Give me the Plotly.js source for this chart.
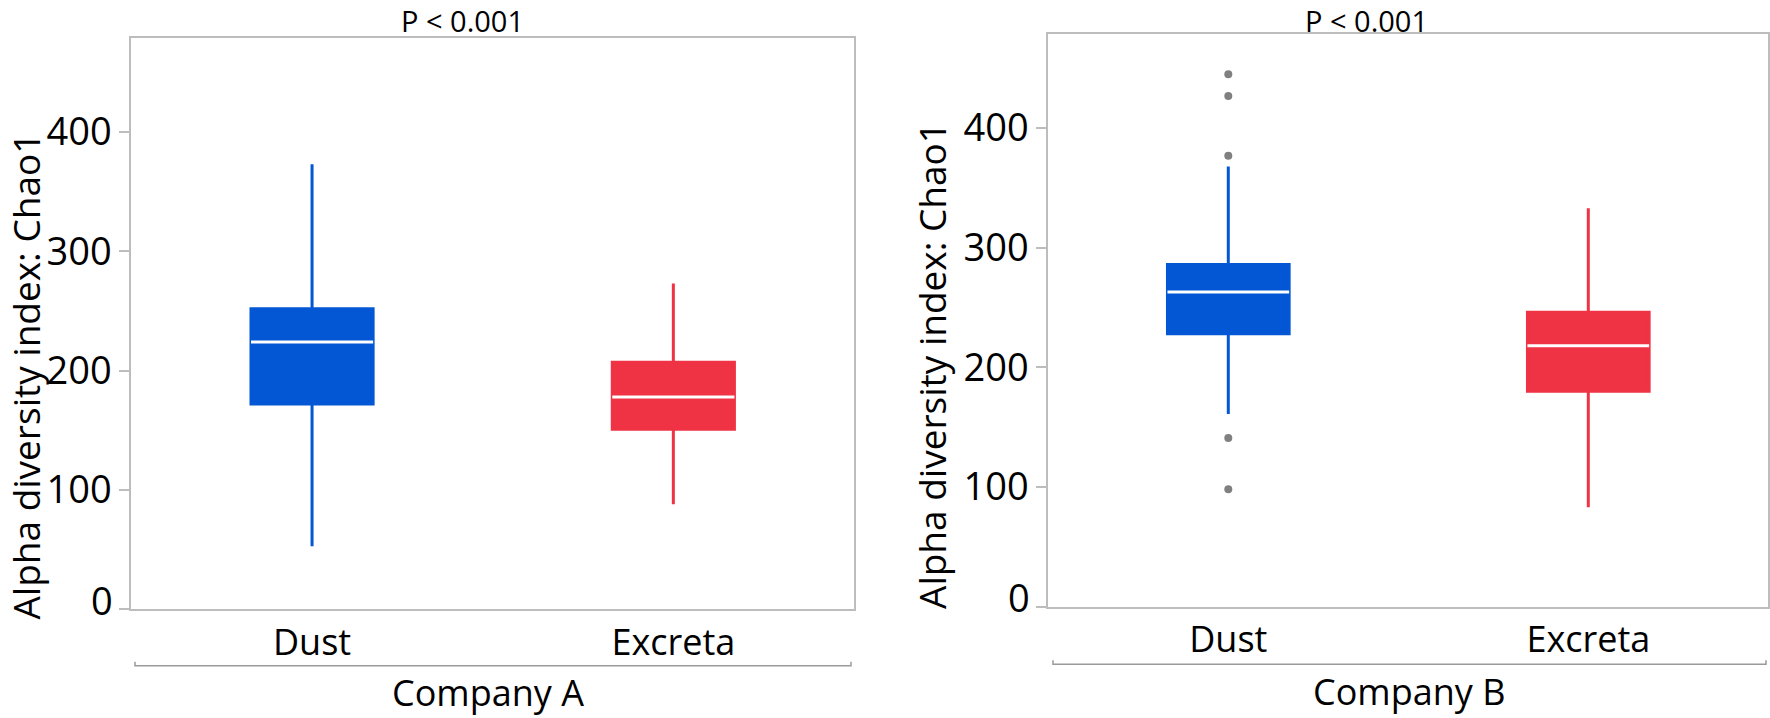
<!DOCTYPE html>
<html><head><meta charset="utf-8">
<script src="https://cdn.plot.ly/plotly-3.0.1.min.js"></script>
<style>html,body{margin:0;padding:0;background:#fff}#chart{width:1770px;height:718px}</style>
</head><body><div id="chart"></div>
<script>
// ---- data ----
const groups = ['Dust', 'Excreta'];
const aLower  = [53, 88];
const aQ1     = [172, 151];
const aMedian = [224, 178];
const aQ3     = [252, 207];
const aUpper  = [373, 273];
const bLower  = [161, 83];
const bQ1     = [228, 180];
const bMedian = [263, 218];
const bQ3     = [286, 246];
const bUpper  = [368, 333];
const bDustOutliers = [445, 427, 377, 141, 98];
const yTicks = [0, 100, 200, 300, 400];
const pTexts = ['P < 0.001', 'P < 0.001'];
const companies = ['Company A', 'Company B'];
const yTitle = 'Alpha diversity index: Chao1';

// ---- styles ----
const colors = ['#0457D4', '#EF3244'];
const FONT = 'Open Sans, Noto Sans, sans-serif';
const frameColor = '#BDBDBD';
const boxW = 0.338;

function boxTraces(lower, q1, med, q3, upper, xa, ya) {
  const out = [];
  groups.forEach((g, i) => {
    out.push({
      type: 'box', x: [g], q1: [q1[i]], median: [med[i]], q3: [q3[i]],
      lowerfence: [lower[i]], upperfence: [upper[i]],
      boxpoints: false, width: boxW, whiskerwidth: 0,
      fillcolor: colors[i], line: {color: colors[i], width: 3},
      xaxis: xa, yaxis: ya, hoverinfo: 'skip', showlegend: false
    });
    out.push({
      type: 'box', x: [g], q1: [med[i]], median: [med[i]], q3: [med[i]],
      lowerfence: [med[i]], upperfence: [med[i]],
      boxpoints: false, width: boxW, whiskerwidth: 0,
      fillcolor: 'rgba(0,0,0,0)', line: {color: '#FFFFFF', width: 3},
      xaxis: xa, yaxis: ya, hoverinfo: 'skip', showlegend: false
    });
  });
  return out;
}

const traces = []
  .concat(boxTraces(aLower, aQ1, aMedian, aQ3, aUpper, 'x', 'y'))
  .concat(boxTraces(bLower, bQ1, bMedian, bQ3, bUpper, 'x2', 'y2'));
traces.push({
  type: 'scatter', mode: 'markers', x: bDustOutliers.map(() => groups[0]), y: bDustOutliers,
  marker: {color: '#808080', size: 8}, xaxis: 'x2', yaxis: 'y2', hoverinfo: 'skip', showlegend: false
});
// invisible carriers so the overlay axes (holding the raised "0" label) are drawn
traces.push({type: 'scatter', mode: 'markers', x: [groups[0]], y: [yTicks[0]], marker: {opacity: 0},
  xaxis: 'x', yaxis: 'y3', hoverinfo: 'skip', showlegend: false});
traces.push({type: 'scatter', mode: 'markers', x: [groups[0]], y: [yTicks[0]], marker: {opacity: 0},
  xaxis: 'x2', yaxis: 'y4', hoverinfo: 'skip', showlegend: false});

const W = 1770, H = 718;
const dom = {
  x1: [131.4 / W, 854 / W], y1: [1 - 609.4 / H, 1 - 37.7 / H],
  x2: [1048.3 / W, 1768.3 / W], y2: [1 - 606.5 / H, 1 - 33.7 / H]
};

function xAxis(d, anchor) {
  return {
    domain: d, anchor: anchor, type: 'category', categoryorder: 'array', categoryarray: groups,
    range: [-0.5, 1.5], showline: true, mirror: true, linecolor: frameColor, linewidth: 2,
    ticks: '', showgrid: false, zeroline: false, ticklabelstandoff: 0,
    tickfont: {size: 36, color: '#000', family: FONT}, fixedrange: true, automargin: false
  };
}
function yAxis(d, anchor) {
  return {
    domain: d, anchor: anchor, range: [0, 479], tickmode: 'array', tickvals: yTicks,
    ticktext: yTicks.map(v => (v === yTicks[0] ? '' : String(v))),
    ticks: 'outside', ticklen: 10, tickwidth: 2, tickcolor: frameColor,
    showline: true, mirror: true, linecolor: frameColor, linewidth: 2,
    showgrid: false, zeroline: false,
    tickfont: {size: 38, color: '#000', family: FONT}, fixedrange: true, automargin: false
  };
}
function yZeroAxis(d, anchor, over) {
  return {
    domain: d, anchor: anchor, overlaying: over, side: 'left', range: [0, 479],
    tickmode: 'array', tickvals: [yTicks[0]], ticktext: [String(yTicks[0])],
    ticks: 'outside', ticklen: 10, tickwidth: 2, tickcolor: 'rgba(0,0,0,0)',
    ticklabelshift: -8, showline: false, showgrid: false, zeroline: false,
    tickfont: {size: 38, color: '#000', family: FONT}, fixedrange: true, automargin: false
  };
}

function bracket(x0, x1, y) {
  const t = 4 / H;
  return {
    type: 'path', xref: 'paper', yref: 'paper',
    path: `M ${x0},${y + t} L ${x0},${y} L ${x1},${y} L ${x1},${y + t}`,
    line: {color: '#9A9A9A', width: 1.5}
  };
}

const ann = (text, x, y, size, angle) => ({
  text: text, xref: 'paper', yref: 'paper', x: x, y: y, xanchor: 'center', yanchor: 'middle',
  showarrow: false, textangle: angle || 0, borderpad: 0,
  font: {size: size, color: '#000', family: FONT}
});

const layout = {
  width: W, height: H, autosize: false,
  margin: {l: 0, r: 0, t: 0, b: 0, pad: 0},
  paper_bgcolor: '#FFFFFF', plot_bgcolor: '#FFFFFF',
  font: {family: FONT, color: '#000'},
  boxmode: 'overlay', showlegend: false,
  xaxis: xAxis(dom.x1, 'y'), yaxis: yAxis(dom.y1, 'x'),
  xaxis2: xAxis(dom.x2, 'y2'), yaxis2: yAxis(dom.y2, 'x2'),
  yaxis3: yZeroAxis(dom.y1, 'x', 'y'),
  yaxis4: yZeroAxis(dom.y2, 'x2', 'y2'),
  shapes: [
    bracket(135 / W, 851 / W, 1 - 665.7 / H),
    bracket(1053 / W, 1766 / W, 1 - 664.2 / H)
  ],
  annotations: [
    ann(pTexts[0], 462.5 / W, 1 - 20 / H, 29),
    ann(pTexts[1], 1366.5 / W, 1 - 20 / H, 29),
    ann(companies[0], 488 / W, 1 - 692 / H, 36),
    ann(companies[1], 1409 / W, 1 - 691 / H, 36),
    ann(yTitle, 26 / W, 1 - 376.6 / H, 37, -90),
    ann(yTitle, 931 / W, 1 - 365 / H, 37, -90)
  ]
};

Plotly.newPlot('chart', traces, layout, {staticPlot: true, displayModeBar: false});
</script>
</body></html>
